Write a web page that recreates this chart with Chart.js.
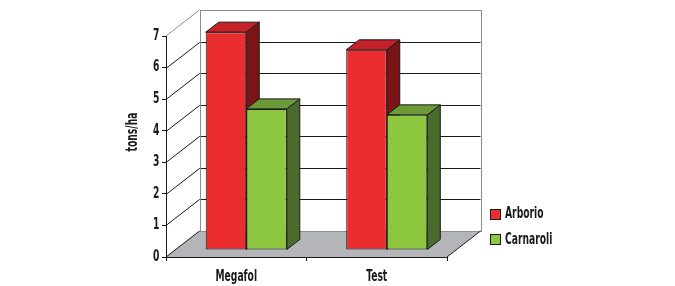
<!DOCTYPE html>
<html>
<head>
<meta charset="utf-8">
<script src="https://cdn.jsdelivr.net/npm/chart.js@4.4.1/dist/chart.umd.min.js"></script>
<style>
    html, body { margin:0; padding:0; background:#fff; }
    #grafico { display:block; }
</style>
</head>
<body>
<canvas id="grafico" width="675" height="286"></canvas>
<script>
// datos
var categorias = ["Megafol", "Test"];
var arborio = [6.9, 6.34];
var carnaroli = [4.47, 4.28];
var escalaY = [0, 1, 2, 3, 4, 5, 6, 7];
var tituloY = "tons/ha";

var fuente = "'DejaVu Sans Condensed', 'DejaVu Sans', sans-serif";
var angosto = 0.68; // la letra original es muy angosta
var negro = "#1a1a1a";
var gris = "#8c8c8c";

// fondo (pared) y profundidad de las barras
var prof = {x: 33.5, y: -26};
var desplazo = {x: 10, y: -7};
var grosor = {x: 13, y: -10};

function texto(ctx, t, x, y, alinear) {
    ctx.save();
    ctx.translate(x, y);
    ctx.scale(angosto, 1);
    ctx.textAlign = alinear;
    ctx.textBaseline = 'middle';
    ctx.fillText(t, 0, 0);
    ctx.restore();
}

var caja3d = {
    id: 'caja3d',
    beforeDraw: function(chart) {
        var ctx = chart.ctx;
        var a = chart.chartArea;
        var ys = chart.scales.y;
        var L = a.left, R = a.right;
        var B = ys.getPixelForValue(escalaY[0]);
        var T = ys.getPixelForValue(escalaY[escalaY.length-1]);
        ctx.save();
        ctx.lineWidth = 1;

        // pared del fondo
        ctx.fillStyle = "#fff";
        ctx.fillRect(L+prof.x, T+prof.y, R-L, B-T);

        // lineas de la pared del fondo y del lado
        for (var i=1; i<escalaY.length-1; i++) {
            var y = Math.round(ys.getPixelForValue(escalaY[i])) + 0.5;
            ctx.strokeStyle = negro;
            ctx.beginPath();
            ctx.moveTo(L+prof.x, y+prof.y);
            ctx.lineTo(R+prof.x, y+prof.y);
            ctx.stroke();
            ctx.beginPath();
            ctx.moveTo(L, y);
            ctx.lineTo(L+prof.x, y+prof.y);
            ctx.stroke();
        }
        ctx.strokeStyle = gris;
        ctx.strokeRect(Math.round(L+prof.x)+0.5, Math.round(T+prof.y)+0.5, R-L, B-T);
        ctx.beginPath();
        ctx.moveTo(L, T);
        ctx.lineTo(L+prof.x, T+prof.y);
        ctx.stroke();

        // piso
        ctx.fillStyle = "#b4b5b9";
        ctx.beginPath();
        ctx.moveTo(L, B);
        ctx.lineTo(R, B);
        ctx.lineTo(R+prof.x, B+prof.y);
        ctx.lineTo(L+prof.x, B+prof.y);
        ctx.closePath();
        ctx.fill();
        ctx.strokeStyle = gris;
        ctx.beginPath();
        ctx.moveTo(L+prof.x, Math.round(B+prof.y)+0.5);
        ctx.lineTo(R+prof.x, Math.round(B+prof.y)+0.5);
        ctx.stroke();
        ctx.strokeStyle = negro;
        ctx.beginPath();
        ctx.moveTo(R, B);
        ctx.lineTo(R+prof.x, B+prof.y);
        ctx.moveTo(L, B);
        ctx.lineTo(L+prof.x, B+prof.y);
        ctx.stroke();
        ctx.restore();
    },
    beforeDatasetsDraw: function(chart) {
        var ctx = chart.ctx;
        ctx.save();
        ctx.translate(desplazo.x, desplazo.y);

        // caras de arriba y del lado, de izquierda a derecha,
        // antes de que Chart.js pinte las caras frontales
        var barras = [];
        chart.data.datasets.forEach(function(ds, d) {
            chart.getDatasetMeta(d).data.forEach(function(b) {
                barras.push({b: b, ds: ds});
            });
        });
        barras.sort(function(p, q) { return p.b.x - q.b.x; });

        ctx.save();
        ctx.lineWidth = 1;
        ctx.strokeStyle = negro;
        ctx.lineJoin = 'round';
        for (var i=0; i<barras.length; i++) {
            var b = barras[i].b, ds = barras[i].ds;
            var izq = b.x - b.width/2, der = b.x + b.width/2;
            var arr = b.y, base = b.base;
            ctx.fillStyle = ds.colorLado;
            ctx.beginPath();
            ctx.moveTo(der, arr);
            ctx.lineTo(der+grosor.x, arr+grosor.y);
            ctx.lineTo(der+grosor.x, base+grosor.y);
            ctx.lineTo(der, base);
            ctx.closePath();
            ctx.fill();
            ctx.stroke();
            ctx.fillStyle = ds.colorArriba;
            ctx.beginPath();
            ctx.moveTo(izq, arr);
            ctx.lineTo(izq+grosor.x, arr+grosor.y);
            ctx.lineTo(der+grosor.x, arr+grosor.y);
            ctx.lineTo(der, arr);
            ctx.closePath();
            ctx.fill();
            ctx.stroke();
        }
        ctx.restore();
    },
    afterDatasetsDraw: function(chart) {
        chart.ctx.restore();
    },
    afterDraw: function(chart) {
        var ctx = chart.ctx;
        var a = chart.chartArea;
        var xs = chart.scales.x, ys = chart.scales.y;
        ctx.save();
        ctx.fillStyle = negro;
        ctx.font = "bold 15px " + fuente;

        // etiquetas de los ejes
        ys.ticks.forEach(function(t) {
            texto(ctx, String(t.value), a.left - 6.5, ys.getPixelForValue(t.value), 'right');
        });
        categorias.forEach(function(c, i) {
            texto(ctx, c, xs.getPixelForValue(i), a.bottom + 20, 'center');
        });

        // titulo eje y
        ctx.save();
        ctx.translate(133, 132);
        ctx.rotate(-Math.PI/2);
        texto(ctx, tituloY, 0, 0, 'center');
        ctx.restore();

        // leyenda
        var ds = chart.data.datasets;
        for (var i=0; i<ds.length; i++) {
            var y = 213.5 + i*25.3;
            ctx.fillStyle = ds[i].backgroundColor;
            ctx.fillRect(490.5, Math.round(y-5)+0.5, 10, 10);
            ctx.strokeStyle = negro;
            ctx.strokeRect(490.5, Math.round(y-5)+0.5, 10, 10);
            ctx.fillStyle = negro;
            texto(ctx, ds[i].label, 505, y+1, 'left');
        }
        ctx.restore();
    }
};

var ctx = document.getElementById('grafico').getContext('2d');
var chart = new Chart(ctx, {
    type: 'bar',
    data: {
        labels: categorias,
        datasets: [
            {
                label: "Arborio",
                data: arborio,
                backgroundColor: "#ec2d2f",
                colorArriba: "#c52129",
                colorLado: "#7b1417",
                borderColor: negro,
                borderWidth: 1,
                borderSkipped: false,
                clip: false
            },
            {
                label: "Carnaroli",
                data: carnaroli,
                backgroundColor: "#8dc63f",
                colorArriba: "#6c9a39",
                colorLado: "#4b6a2e",
                borderColor: negro,
                borderWidth: 1,
                borderSkipped: false,
                clip: false
            }
        ]
    },
    options: {
        responsive: false,
        animation: false,
        devicePixelRatio: 1,
        categoryPercentage: 0.577,
        barPercentage: 1,
        layout: {
            padding: {left: 126, right: 228, top: 36, bottom: 0}
        },
        plugins: {
            legend: {display: false},
            tooltip: {enabled: false}
        },
        scales: {
            x: {
                grid: {offset: true, drawOnChartArea: false, tickLength: 4, color: negro},
                border: {color: negro},
                ticks: {display: false},
                afterFit: function(s) { s.height = 29; }
            },
            y: {
                min: escalaY[0],
                max: escalaY[escalaY.length-1],
                grid: {drawOnChartArea: false, tickLength: 4, color: negro},
                border: {color: negro},
                ticks: {display: false, stepSize: 1},
                afterFit: function(s) { s.width = 40; }
            }
        }
    },
    plugins: [caja3d]
});
</script>
</body>
</html>
